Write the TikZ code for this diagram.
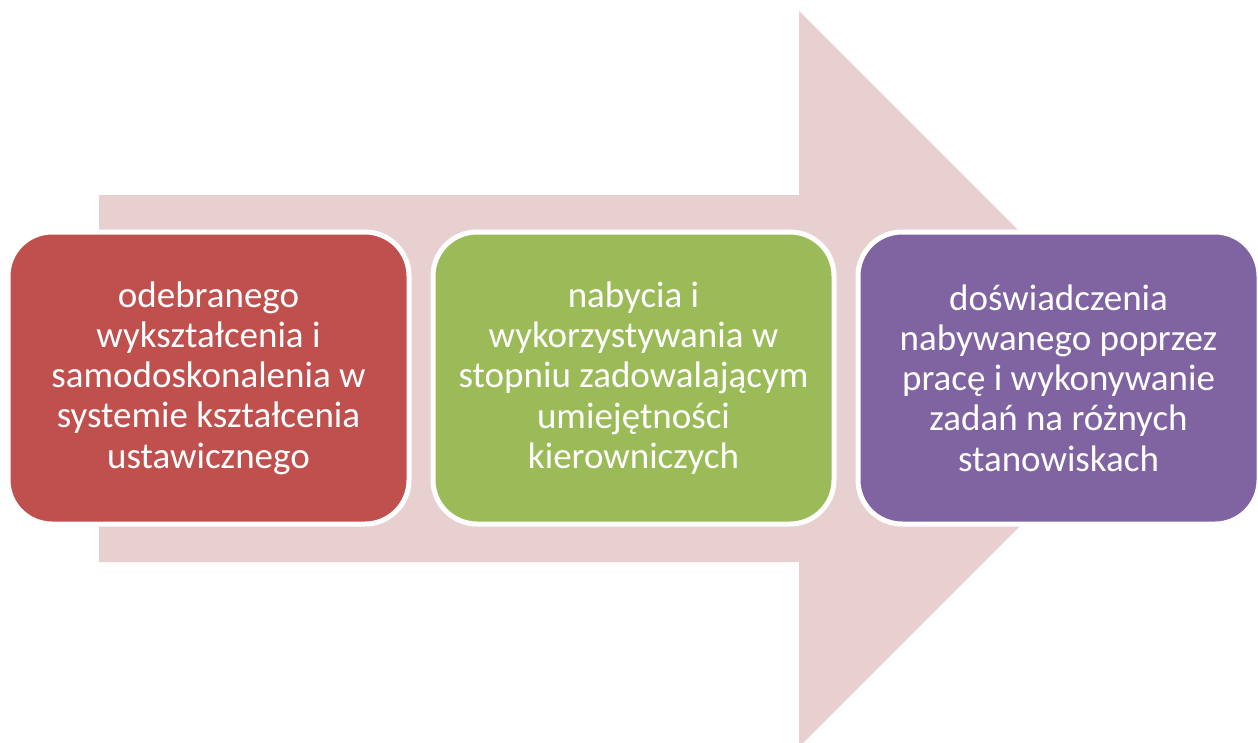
\documentclass[tikz,border=0pt]{standalone}
\usepackage{fontspec}
\setmainfont{Carlito}
\definecolor{arrowpink}{RGB}{232,208,208}
\definecolor{boxred}{RGB}{192,80,77}
\definecolor{boxgreen}{RGB}{155,187,89}
\definecolor{boxpurple}{RGB}{128,100,162}
\begin{document}
\begin{tikzpicture}[x=1pt,y=-1pt,
  stagebox/.style={rounded corners=44pt, draw=white, line width=5pt,
    minimum width=401pt, minimum height=292pt, text=white, align=center,
    font=\fontsize{37}{40.2}\selectfont, inner sep=0pt}]
\useasboundingbox (0,0) rectangle (1258,742);
\fill[arrowpink] (99,195) -- (799,195) -- (799,11) -- (1167,379) -- (799,747) -- (799,562) -- (99,562) -- cycle;
\node[stagebox, fill=boxred] (a) at (208.5,378) {odebranego\\wykształcenia i\\samodoskonalenia w\\systemie kształcenia\\ustawicznego};
\node[stagebox, fill=boxgreen] (b) at (633.5,378) {nabycia i\\wykorzystywania w\\stopniu zadowalającym\\umiejętności\\kierowniczych};
\node[stagebox, fill=boxpurple] (c) at (1058.5,378) {doświadczenia\\nabywanego poprzez\\pracę i wykonywanie\\zadań na różnych\\stanowiskach};
\end{tikzpicture}
\end{document}
